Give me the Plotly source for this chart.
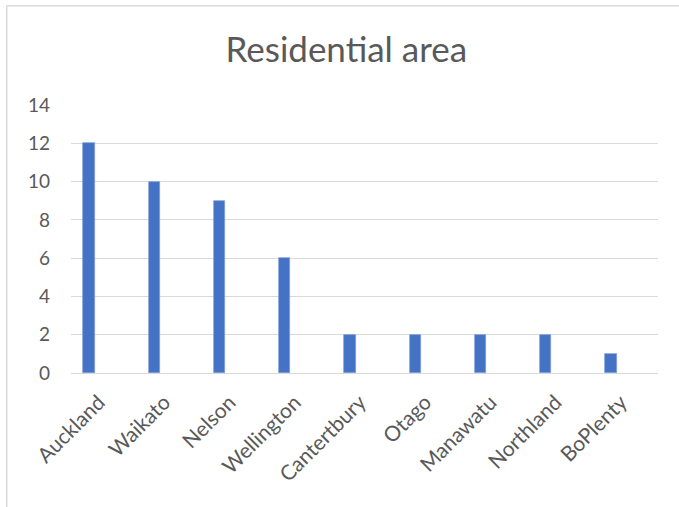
import plotly.graph_objects as go

regions = ["Auckland", "Waikato", "Nelson", "Wellington", "Cantertbury",
           "Otago", "Manawatu", "Northland", "BoPlenty"]
counts = [12, 10, 9, 6, 2, 2, 2, 2, 1]
y_ticks = [0, 2, 4, 6, 8, 10, 12, 14]

fig = go.Figure()
fig.add_trace(go.Bar(
    x=regions, y=counts,
    marker=dict(color="#4472C4", line=dict(color="#7C9BD8", width=0.7)),
    width=0.17,
))

font_family = "Lato, 'Open Sans', sans-serif"
fig.update_layout(
    width=679, height=507,
    margin=dict(l=71, r=21, t=105, b=134),
    paper_bgcolor="white", plot_bgcolor="white",
    showlegend=False,
    title=dict(text="Residential area", x=0.51, xref="container", xanchor="center",
               y=0.901, yref="container", yanchor="middle",
               font=dict(family=font_family, size=35, color="#595959")),
    xaxis=dict(tickangle=-45, tickfont=dict(family=font_family, size=21, color="#595959"),
               showgrid=False, showline=False, ticks="", range=[-0.276, 8.72],
               ticklabelshift=10, ticklabelstandoff=12, automargin=False),
    yaxis=dict(range=[0, 14], tickvals=y_ticks, showgrid=True, gridcolor="#D9D9D9",
               gridwidth=1.3, zeroline=True, zerolinecolor="#D9D9D9", zerolinewidth=1.3,
               tickfont=dict(family=font_family, size=19, color="#595959"),
               ticks="", ticklabelstandoff=20, showline=False, automargin=False),
    bargap=0,
    shapes=[
        dict(type="line", xref="paper", yref="paper", x0=-0.1095, x1=1.2, y0=1.3705, y1=1.3705,
             line=dict(color="#D9D9D9", width=1.5)),
        dict(type="line", xref="paper", yref="paper", x0=-0.1095, x1=-0.1095, y0=1.3705, y1=-0.6,
             line=dict(color="#D9D9D9", width=1.5)),
    ],
)

fig.write_html("out.html", config={"displayModeBar": False},
               post_script="document.body.style.margin='0';")
